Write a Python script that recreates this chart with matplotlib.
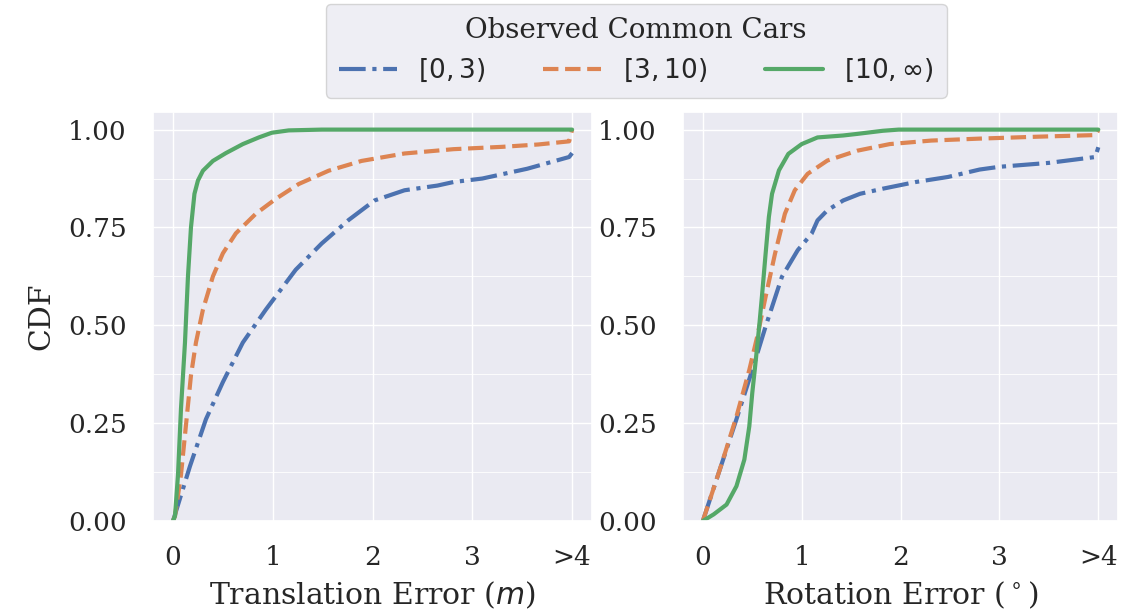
import matplotlib
matplotlib.use("Agg")
import matplotlib.pyplot as plt
from matplotlib.ticker import MultipleLocator
import seaborn as sns

sns.set_theme(style="darkgrid", font="serif")
plt.rcParams["font.family"] = ["DejaVu Serif"]

labels = [r"$[0, 3)$", r"$[3, 10)$", r"$[10, \infty)$"]
colors = ["#4C72B0", "#DD8452", "#55A868"]
styles = ["-.", "--", "-"]

# Translation error CDFs (x in metres, 4 = ">4")
trans_x = [
    [0, 0.17, 0.33, 0.50, 0.70, 0.93, 1.23, 1.49, 1.76, 2.02, 2.32, 2.65, 2.81, 3.1, 3.55, 3.97, 4.0],
    [0, 0.02, 0.08, 0.13, 0.18, 0.23, 0.30, 0.40, 0.50, 0.63, 0.83, 1.03, 1.26, 1.56, 1.89, 2.32, 2.81, 3.3, 3.66, 3.97, 4.0],
    [0, 0.02, 0.05, 0.08, 0.12, 0.15, 0.18, 0.215, 0.25, 0.30, 0.40, 0.53, 0.70, 0.86, 0.99, 1.16, 1.49, 4.0],
]
trans_y = [
    [0, 0.14, 0.26, 0.355, 0.456, 0.54, 0.642, 0.709, 0.769, 0.819, 0.845, 0.857, 0.866, 0.875, 0.90, 0.93, 0.94],
    [0, 0.013, 0.118, 0.245, 0.372, 0.456, 0.54, 0.625, 0.684, 0.735, 0.785, 0.823, 0.861, 0.895, 0.92, 0.939, 0.95, 0.956, 0.962, 0.97, 1.0],
    [0, 0.013, 0.118, 0.287, 0.456, 0.625, 0.75, 0.836, 0.87, 0.895, 0.92, 0.94, 0.963, 0.98, 0.992, 0.998, 1.0, 1.0],
]

# Rotation error CDFs (x in degrees, 4 = ">4")
rot_x = [
    [0, 0.17, 0.34, 0.50, 0.635, 0.80, 0.96, 1.10, 1.16, 1.26, 1.42, 1.59, 1.82, 2.15, 2.48, 2.8, 3.0, 3.5, 3.97, 4.0],
    [0, 0.17, 0.34, 0.47, 0.55, 0.635, 0.73, 0.83, 0.93, 1.06, 1.26, 1.56, 1.89, 2.31, 2.8, 3.4, 3.97, 4.0],
    [0, 0.11, 0.24, 0.34, 0.42, 0.47, 0.50, 0.536, 0.57, 0.60, 0.635, 0.668, 0.70, 0.77, 0.865, 1.0, 1.16, 1.42, 1.56, 1.82, 1.98, 4.0],
]
rot_y = [
    [0, 0.13, 0.26, 0.386, 0.497, 0.624, 0.692, 0.734, 0.768, 0.794, 0.819, 0.836, 0.849, 0.866, 0.879, 0.898, 0.905, 0.915, 0.93, 0.955],
    [0, 0.13, 0.267, 0.386, 0.471, 0.573, 0.683, 0.785, 0.845, 0.887, 0.921, 0.946, 0.963, 0.972, 0.977, 0.982, 0.986, 0.998],
    [0, 0.017, 0.042, 0.089, 0.157, 0.242, 0.327, 0.412, 0.497, 0.58, 0.683, 0.777, 0.836, 0.896, 0.938, 0.963, 0.98, 0.985, 0.989, 0.997, 1.0, 1.0],
]

xticks = [0, 1, 2, 3, 4]
xticklabels = ["0", "1", "2", "3", ">4"]
yticks = [0.0, 0.25, 0.5, 0.75, 1.0]
yticklabels = ["0.00", "0.25", "0.50", "0.75", "1.00"]

fig = plt.figure(figsize=(11.43, 6.10), dpi=100)
ax1 = fig.add_axes([0.1339, 0.1459, 0.3841, 0.6705])
ax2 = fig.add_axes([0.5976, 0.1459, 0.3806, 0.6705])

fs = 19
for ax, xs, ys, xlabel in [(ax1, trans_x, trans_y, r"Translation Error ($m$)"),
                           (ax2, rot_x, rot_y, r"Rotation Error ($^\circ$)")]:
    for x, y, c, ls, lab in zip(xs, ys, colors, styles, labels):
        ax.plot(x, y, color=c, linestyle=ls, linewidth=3, label=lab)
    ax.set_xlim(-0.2, 4.2)
    ax.set_ylim(0, 1.045)
    ax.set_xticks(xticks)
    ax.set_xticklabels(xticklabels)
    ax.set_yticks(yticks)
    ax.set_yticklabels(yticklabels)
    ax.yaxis.set_minor_locator(MultipleLocator(0.125))
    ax.grid(which="minor", axis="y", color="white", linewidth=0.6)
    ax.tick_params(axis="y", which="both", labelsize=fs, pad=19, length=0)
    ax.tick_params(axis="x", labelsize=fs, pad=17, length=0)
    ax.set_xlabel(xlabel, fontsize=21.5, labelpad=7)

ax1.set_ylabel("CDF", fontsize=21.5, labelpad=9)

handles, labs = ax1.get_legend_handles_labels()
leg = fig.legend(handles, labs, loc="upper center", bbox_to_anchor=(0.5565, 1.0),
                 ncol=3, title="Observed Common Cars", fontsize=fs,
                 title_fontsize=20, handlelength=2.2, columnspacing=2.2,
                 borderpad=0.5, labelspacing=0.5, borderaxespad=0.15,
                 frameon=True)

fig.savefig("out.png", dpi=100)
